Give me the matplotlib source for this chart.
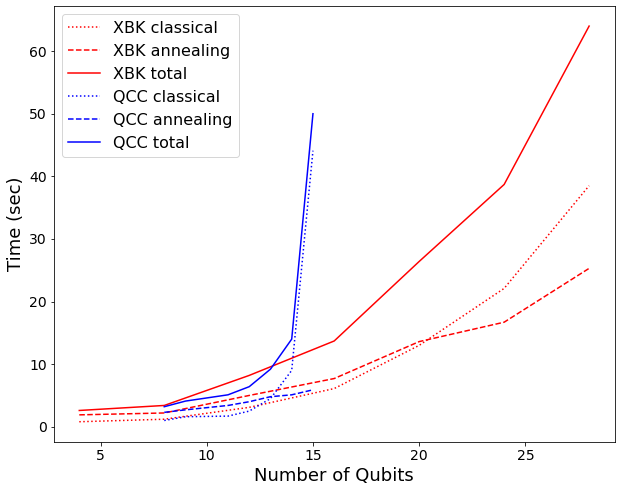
import matplotlib
matplotlib.use("Agg")
import matplotlib.pyplot as plt

xbk_qubits = [4, 8, 12, 16, 20, 24, 28]
xbk_classical = [0.8, 1.2, 3.1, 6.1, 13.0, 22.1, 38.5]
xbk_annealing = [1.9, 2.2, 5.0, 7.7, 13.6, 16.7, 25.3]
xbk_total = [2.6, 3.4, 8.2, 13.7, 26.4, 38.7, 64.0]

qcc_qubits = [8, 9, 11, 12, 13, 14, 15]
qcc_classical = [1.0, 1.6, 1.7, 2.5, 4.5, 9.0, 44.1]
qcc_annealing = [2.3, 2.7, 3.4, 4.0, 4.8, 5.1, 5.9]
qcc_total = [3.2, 4.1, 5.1, 6.4, 9.2, 14.0, 50.0]

fig = plt.figure(figsize=(619/72, 492/72), dpi=72)
ax = fig.add_axes([0.0869, 0.1026, 0.906, 0.8846])

ax.plot(xbk_qubits, xbk_classical, color='red', linestyle=':', label='XBK classical')
ax.plot(xbk_qubits, xbk_annealing, color='red', linestyle='--', label='XBK annealing')
ax.plot(xbk_qubits, xbk_total, color='red', linestyle='-', label='XBK total')
ax.plot(qcc_qubits, qcc_classical, color='blue', linestyle=':', label='QCC classical')
ax.plot(qcc_qubits, qcc_annealing, color='blue', linestyle='--', label='QCC annealing')
ax.plot(qcc_qubits, qcc_total, color='blue', linestyle='-', label='QCC total')

ax.set_xlabel('Number of Qubits', fontsize=18)
ax.set_ylabel('Time (sec)', fontsize=18)
ax.tick_params(labelsize=14)
ax.legend(fontsize=16, loc='upper left')

fig.savefig('out.png', dpi=72)
